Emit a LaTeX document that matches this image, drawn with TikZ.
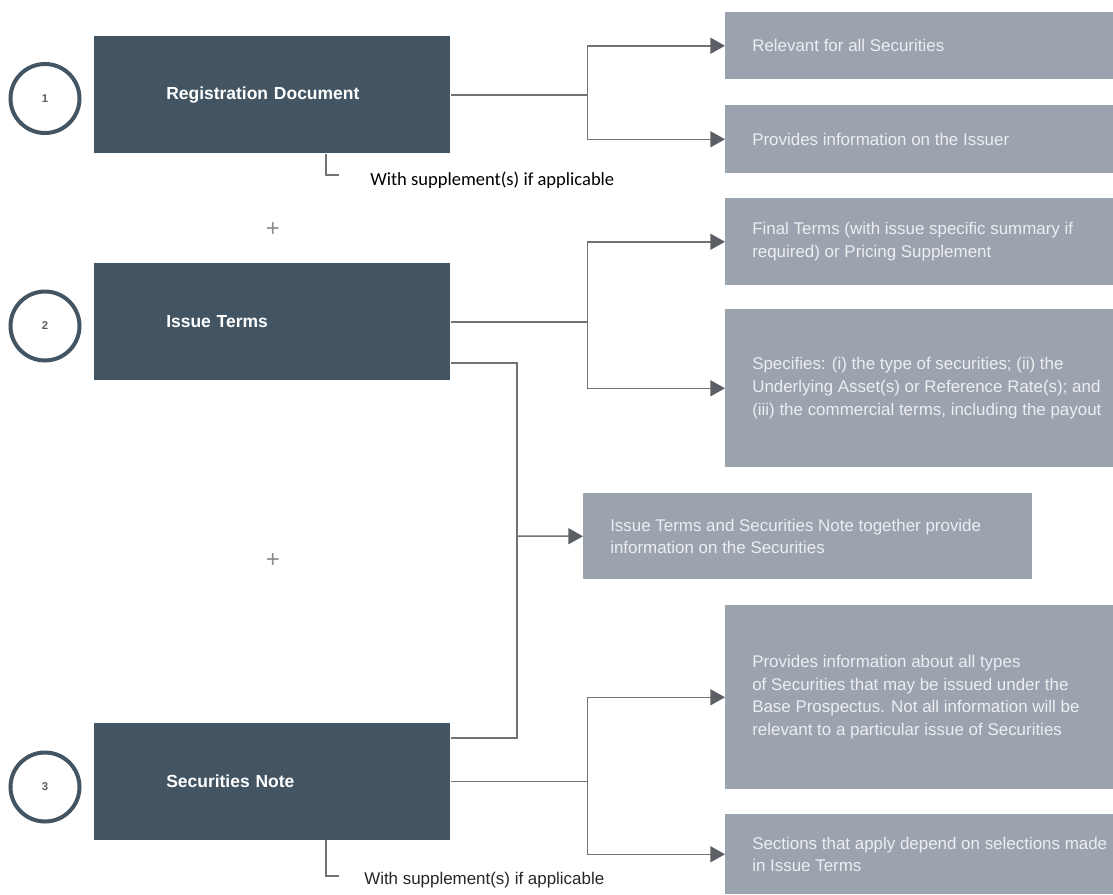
\documentclass[tikz,border=0pt]{standalone}
\usepackage{fontspec}
\setmainfont{Liberation Sans}
\newfontfamily\calibrifont{Carlito}
\usetikzlibrary{arrows.meta}
\definecolor{slate}{HTML}{435563}
\definecolor{steel}{HTML}{9BA3AE}
\definecolor{paletext}{HTML}{ECEEF1}
\definecolor{wiregray}{HTML}{737373}
\definecolor{tipgray}{HTML}{5C5F66}
\definecolor{numgray}{HTML}{5A5A5A}
\definecolor{plusgray}{HTML}{8C8C8C}

\begin{document}
\begin{tikzpicture}[x=0.75pt,y=-0.75pt,
 darkbox/.style={fill=slate,anchor=north west,minimum width=267pt,minimum height=87.75pt,inner xsep=54pt,inner ysep=0pt,text width=159pt,align=left,text=white,font=\fontsize{13.1}{15}\selectfont\bfseries},
 greybox/.style={fill=steel,anchor=north west,minimum width=291pt,inner sep=0pt},
 greytext/.style={anchor=west,inner sep=0pt,align=left,text=paletext,font=\fontsize{12.7}{17}\selectfont},
 numring/.style={circle,draw=slate,line width=3pt,minimum size=51.75pt,inner sep=0pt,text=numgray,font=\fontsize{8.5}{10}\selectfont\bfseries},
 wire/.style={draw=wiregray,line width=1.1pt},
 feed/.style={wire,-{Triangle[length=11pt,width=12pt,color=tipgray]}},
 bracket/.style={draw=wiregray,line width=0.8pt},
 plussign/.style={text=plusgray,inner sep=0pt,font=\fontsize{18}{20}\selectfont}]
\useasboundingbox (0,0) rectangle (1113,894);

\node[numring] (c1) at (45,98.5) {1};
\node[numring] (c2) at (45,326) {2};
\node[numring] (c3) at (45,787) {3};

\node[darkbox] (reg) at (94,36) {Registration Document};
\node[darkbox] (it) at (94,263) {Issue Terms};
\node[darkbox] (sn) at (94,722.5) {Securities Note};

\node[plussign] (p1) at (273,230) {+};
\node[plussign] (p2) at (273,561) {+};

\node[greybox,minimum height=50.25pt] (r1) at (725,12) {};
\node[greybox,minimum height=51pt] (r2) at (725,105) {};
\node[greybox,minimum height=65.25pt] (r3) at (725,198) {};
\node[greybox,minimum height=118.5pt] (r4) at (725,309) {};
\node[greybox,minimum width=336.75pt,minimum height=64.5pt] (mid) at (583,493) {};
\node[greybox,minimum height=138pt] (r5) at (725,605) {};
\node[greybox,minimum height=60pt] (r6) at (725,814) {};

\node[greytext] (r1t) at ([xshift=20.25pt]r1.west) {Relevant for all Securities};
\node[greytext] (r2t) at ([xshift=20.25pt]r2.west) {Provides information on the Issuer};
\node[greytext] (r3t) at ([xshift=20.25pt]r3.west) {Final Terms (with issue specific summary if\\required) or Pricing Supplement};
\node[greytext] (r4t) at ([xshift=20.25pt]r4.west) {Specifies: (i) the type of securities; (ii) the\\Underlying Asset(s) or Reference Rate(s); and\\(iii) the commercial terms, including the payout};
\node[greytext] (midt) at ([xshift=20.25pt]mid.west) {Issue Terms and Securities Note together provide\\information on the Securities};
\node[greytext] (r5t) at ([xshift=20.25pt]r5.west) {Provides information about all types\\of Securities that may be issued under the\\Base Prospectus. Not all information will be\\relevant to a particular issue of Securities};
\node[greytext] (r6t) at ([xshift=20.25pt]r6.west) {Sections that apply depend on selections made\\in Issue Terms};

\draw[wire] (reg.east) -- ++(137,0) coordinate (b1);
\draw[feed] (b1) |- (r1.west);
\draw[feed] (b1) |- (r2.west);
\draw[wire] (it.east) -- ++(137,0) coordinate (b2);
\draw[feed] (b2) |- (r3.west);
\draw[feed] (b2) |- (r4.west);
\draw[wire] (sn.east) -- ++(137,0) coordinate (b3);
\draw[feed] (b3) |- (r5.west);
\draw[feed] (b3) |- (r6.west);

\coordinate (j) at (517,536);
\draw[wire] (it.east |- 0,363) -| (j) |- (sn.east |- 0,738);
\draw[feed] (j) -- (mid.west);

\node[anchor=west,inner sep=0pt,font=\calibrifont\fontsize{13.9}{16}\selectfont] (sup1) at (370,180) {With supplement(s) if applicable};
\node[anchor=west,inner sep=0pt,text=black!85,font=\fontsize{12.7}{15}\selectfont] (sup2) at (364,880) {With supplement(s) if applicable};
\coordinate (s1) at (339,175);
\coordinate (s2) at (339,876);
\draw[bracket] ([xshift=174pt]reg.south west) |- (s1);
\draw[bracket] ([xshift=174pt]sn.south west) |- (s2);
\end{tikzpicture}
\end{document}
